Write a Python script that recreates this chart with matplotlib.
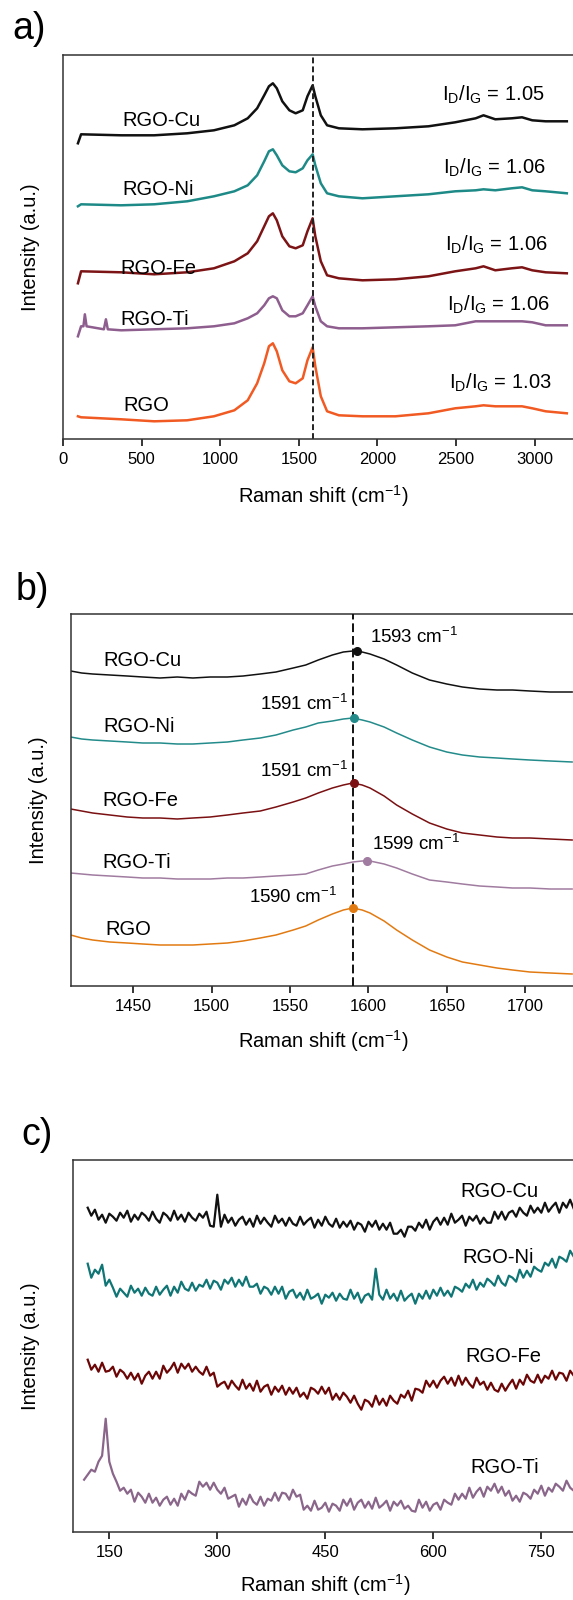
import numpy as np
import matplotlib
matplotlib.use('Agg')
import matplotlib.pyplot as plt

plt.rcParams['font.family'] = ['Liberation Sans', 'DejaVu Sans']
plt.rcParams['mathtext.fontset'] = 'custom'
plt.rcParams['mathtext.rm'] = 'Liberation Sans'
plt.rcParams['mathtext.it'] = 'Liberation Sans:italic'
plt.rcParams['mathtext.default'] = 'regular'

W, H = 573, 1600

samples = ['RGO-Cu', 'RGO-Ni', 'RGO-Fe', 'RGO-Ti', 'RGO']

# ---- a) full spectra (Raman shift, cm-1 / intensity, a.u.)
a_shift = [95, 115, 370, 580, 790, 960, 1090, 1175, 1235, 1280, 1310, 1335, 1360, 1395,
           1440, 1480, 1525, 1555, 1588, 1605, 1640, 1680, 1755, 1905, 2115, 2325, 2495,
           2625, 2675, 2750, 2855, 2920, 2985, 3070, 3205]
a_cu = [296, 305, 304, 304, 306, 309, 314, 321, 331, 344, 353, 356, 351, 338, 329, 326, 329,
        343, 354, 343, 324, 314, 311, 310, 311, 313, 317, 321, 324, 320, 321, 322, 319, 318, 318]
a_ni = [233, 235, 234, 235, 238, 243, 248, 254, 264, 278, 288, 290, 284, 274, 268, 267, 271,
        279, 285, 274, 256, 246, 243, 241, 243, 245, 248, 249, 250, 249, 251, 252, 249, 248, 246]
a_fe = [156, 168, 167, 165, 167, 171, 178, 186, 198, 213, 223, 226, 219, 203, 193, 191, 194,
        208, 221, 203, 178, 164, 161, 159, 160, 163, 168, 171, 173, 169, 171, 172, 169, 167, 166]
a_rgo = [23, 22, 20, 18, 19, 23, 29, 39, 56, 76, 93, 96, 88, 69, 58, 56, 61, 79, 92, 73, 43,
         28, 24, 23, 23, 26, 31, 33, 34, 33, 33, 33, 31, 28, 26]
a_ti_shift = [95, 115, 130, 139, 150, 260, 273, 285, 370, 580, 790, 960, 1090, 1175, 1235,
              1280, 1310, 1335, 1360, 1395, 1440, 1480, 1525, 1555, 1588, 1605, 1640, 1680,
              1755, 1905, 2115, 2325, 2495, 2625, 2675, 2750, 2855, 2920, 2985, 3070, 3205]
a_ti = [103, 113, 113, 125, 113, 110, 120, 110, 109, 110, 111, 113, 116, 121, 126, 134, 141,
        143, 141, 129, 123, 123, 126, 134, 143, 133, 118, 113, 111, 111, 112, 113, 114, 118,
        118, 118, 118, 118, 117, 114, 114]
a_ratio = ['1.05', '1.06', '1.06', '1.06', '1.03']
a_label_pos = [(375, 313), (375, 244), (368, 165), (368, 114), (385, 28)]
a_ratio_pos = [(2412, 339), (2419, 266), (2433, 189), (2444, 129), (2455, 51)]

# ---- b) G band region
b_shift = [1410, 1417, 1424, 1435, 1446, 1456, 1467, 1478, 1488, 1499, 1510, 1520, 1531,
           1541, 1552, 1560, 1568, 1577, 1584, 1590, 1596, 1601, 1610, 1618, 1628, 1639,
           1650, 1660, 1671, 1682, 1692, 1703, 1716, 1730]
b_cu = [315, 313, 312, 311, 310, 309, 308, 309, 308, 309, 309, 310, 312, 314, 318, 321, 326,
        331, 334, 335, 334, 332, 327, 321, 313, 306, 302, 299, 297, 296, 296, 295, 294, 294]
b_ni = [249, 247, 246, 245, 244, 243, 243, 242, 242, 243, 244, 246, 248, 251, 256, 259, 263,
        265, 267, 268, 266, 264, 259, 253, 246, 239, 234, 231, 229, 228, 227, 226, 225, 224]
b_fe = [177, 175, 173, 171, 169, 168, 168, 167, 168, 169, 171, 173, 175, 179, 184, 188, 193,
        198, 201, 203, 201, 198, 190, 181, 172, 163, 157, 153, 151, 149, 148, 148, 147, 146]
b_ti = [113, 112, 111, 110, 109, 108, 108, 107, 107, 107, 108, 108, 109, 110, 111, 112, 116,
        120, 122, 124, 125, 125, 122, 118, 112, 106, 104, 102, 100, 99, 98, 98, 97, 97]
b_rgo = [51, 48, 46, 44, 43, 42, 41, 41, 41, 42, 43, 45, 48, 51, 56, 60, 66, 72, 76, 78, 76,
         73, 65, 56, 46, 36, 29, 24, 21, 18, 16, 14, 13, 12]
b_peak = [1593, 1591, 1591, 1599, 1590]
b_peak_int = [335, 268, 203, 125, 78]
b_label_pos = [(1431, 320), (1431, 254), (1430, 180), (1430, 118), (1432, 51)]
b_peak_pos = [(1601, 343), (1531, 276), (1531, 209), (1602, 136), (1524, 83)]

# ---- c) low wavenumber region
c_shift = np.arange(120, 800, 5)
c_cu = [324, 316, 322, 312, 317, 309, 318, 315, 311, 319, 314, 321, 310, 317, 312, 319,
        316, 311, 320, 313, 309, 319, 316, 311, 321, 312, 317, 310, 319, 314, 311, 318,
        314, 320, 306, 305, 337, 305, 317, 309, 314, 306, 312, 315, 307, 313, 305, 316,
        308, 314, 309, 305, 316, 309, 313, 306, 314, 308, 306, 315, 307, 311, 314, 304,
        312, 306, 315, 308, 305, 313, 304, 310, 305, 311, 302, 309, 307, 300, 310, 305,
        311, 302, 308, 302, 309, 298, 298, 302, 295, 305, 305, 301, 309, 304, 312, 302,
        310, 314, 307, 314, 307, 318, 309, 312, 316, 306, 315, 311, 316, 308, 314, 309,
        309, 320, 313, 320, 312, 319, 321, 315, 324, 319, 316, 326, 319, 324, 319, 329,
        320, 325, 329, 319, 329, 324, 332, 323]
c_ni = [268, 254, 262, 258, 267, 246, 252, 244, 235, 243, 239, 235, 246, 239, 243, 236,
        244, 238, 236, 245, 237, 242, 246, 236, 245, 239, 250, 243, 241, 249, 241, 247,
        245, 252, 243, 251, 249, 242, 252, 248, 254, 245, 252, 246, 255, 245, 245, 248,
        238, 245, 243, 237, 245, 238, 245, 233, 240, 242, 234, 239, 232, 242, 233, 235,
        238, 228, 237, 234, 239, 231, 238, 233, 232, 242, 233, 239, 229, 236, 238, 232,
        263, 237, 232, 242, 233, 238, 231, 241, 231, 235, 238, 228, 238, 233, 241, 233,
        242, 236, 244, 236, 241, 235, 245, 243, 240, 248, 244, 252, 242, 249, 245, 253,
        250, 246, 256, 249, 246, 256, 254, 250, 262, 254, 261, 255, 265, 262, 260, 269,
        266, 273, 264, 275, 273, 270, 281, 275]
c_fe = [172, 162, 167, 160, 169, 160, 161, 165, 155, 162, 159, 153, 159, 152, 158, 148,
        156, 160, 153, 160, 153, 166, 159, 163, 169, 159, 168, 163, 168, 160, 165, 160,
        157, 165, 156, 159, 145, 148, 150, 143, 151, 146, 142, 152, 143, 148, 141, 151,
        140, 145, 147, 137, 145, 140, 146, 137, 144, 138, 144, 135, 139, 133, 144, 142,
        138, 145, 138, 144, 132, 138, 132, 139, 135, 129, 136, 128, 122, 132, 130, 125,
        136, 127, 133, 126, 136, 131, 128, 137, 134, 141, 131, 143, 142, 139, 151, 145,
        151, 144, 151, 155, 148, 154, 146, 156, 147, 154, 148, 144, 154, 147, 150, 142,
        149, 142, 140, 148, 141, 147, 152, 143, 152, 147, 157, 151, 149, 157, 149, 156,
        153, 161, 152, 159, 158, 151, 161, 156]
c_ti_shift = np.arange(115, 800, 5)
c_ti = [52, 57, 62, 60, 70, 76, 113, 70, 58, 50, 41, 44, 38, 42, 30, 39, 35, 29, 38, 29,
        34, 26, 32, 35, 27, 33, 26, 38, 32, 41, 38, 36, 50, 45, 49, 42, 49, 42, 38, 44,
        33, 35, 37, 25, 33, 27, 37, 30, 27, 35, 26, 33, 31, 39, 31, 39, 38, 32, 42, 35,
        37, 22, 26, 21, 31, 22, 24, 29, 20, 28, 26, 21, 32, 26, 33, 22, 29, 32, 24, 30,
        23, 34, 24, 27, 31, 21, 30, 26, 31, 23, 26, 21, 20, 32, 24, 30, 21, 27, 29, 22,
        32, 29, 27, 38, 32, 38, 33, 44, 34, 40, 44, 35, 45, 41, 48, 39, 45, 36, 41, 31,
        36, 30, 39, 37, 33, 42, 38, 46, 36, 44, 40, 48, 45, 41, 51, 44, 41]
c_label_pos = [(638, 335), (641, 269), (644, 170), (651, 59)]

colors_a = ['#111111', '#1e8a87', '#7c1416', '#8e5e8e', '#f15a22']
colors_b = ['#111111', '#248b8b', '#7a1012', '#a07ca0', '#e27a12']
colors_c = ['#111111', '#107575', '#6c0606', '#8a668a']

fig = plt.figure(figsize=(W / 100, H / 100), dpi=100)


def px_axes(left, top, bottom, right=600):
    return fig.add_axes([left / W, 1 - bottom / H, (right - left) / W, (bottom - top) / H])


def style(ax, xlim, ytop, ticks, xlab, ylab):
    ax.set_xlim(*xlim)
    ax.set_ylim(0, ytop)
    ax.set_xticks(ticks)
    ax.set_yticks([])
    ax.tick_params(axis='x', direction='out', length=5, width=1.1, labelsize=12, pad=4.5)
    for s in ax.spines.values():
        s.set_linewidth(1.1)
        s.set_color('#333333')
    ax.set_xlabel('Raman shift (cm$^{-1}$)', fontsize=14.5, va='center')
    ax.xaxis.set_label_coords(*xlab)
    ax.set_ylabel('Intensity (a.u.)', fontsize=14.5, va='center')
    ax.yaxis.set_label_coords(*ylab)


# a)
ax = px_axes(63, 54.7, 439.3)
for xs, ys, c in zip([a_shift, a_shift, a_shift, a_ti_shift, a_shift],
                     [a_cu, a_ni, a_fe, a_ti, a_rgo], colors_a):
    ax.plot(xs, ys, color=c, lw=1.8)
ax.axvline(1590, color='#222222', lw=1.4, ls=(0, (3, 1.6)))
for name, (x, y) in zip(samples, a_label_pos):
    ax.text(x, y, name, fontsize=14.5, va='baseline')
for r, (x, y) in zip(a_ratio, a_ratio_pos):
    ax.text(x, y, 'I$_D$/I$_G$ = ' + r, fontsize=14.5, va='baseline')
style(ax, (0, 3416), 384.6, range(0, 3001, 500),
      ((323 - 63) / 537, (439.3 - 496) / 384.6), ((31 - 63) / 537, 0.5))

# b)
ax = px_axes(70.7, 614.3, 986)
for ys, c, p, pi in zip([b_cu, b_ni, b_fe, b_ti, b_rgo], colors_b, b_peak, b_peak_int):
    ax.plot(b_shift, ys, color=c, lw=1.1)
    ax.plot(p, pi, 'o', color=c, ms=5.5, zorder=4)
ax.axvline(1590, color='#111111', lw=1.4, ls=(0, (4.5, 2)), zorder=3)
for name, (x, y) in zip(samples, b_label_pos):
    ax.text(x, y, name, fontsize=14.5, va='baseline')
for p, (x, y) in zip(b_peak, b_peak_pos):
    ax.text(x, y, '%d cm$^{-1}$' % p, fontsize=13.5, va='baseline')
style(ax, (1410, 1747.8), 371.7, range(1450, 1701, 50),
      ((323 - 70.7) / 529.3, (986 - 1041) / 371.7), ((38 - 70.7) / 529.3, 0.5))

# c)
ax = px_axes(73.3, 1159.7, 1531.7)
for xs, ys, c in zip([c_shift, c_shift, c_shift, c_ti_shift],
                     [c_cu, c_ni, c_fe, c_ti], colors_c):
    ax.plot(xs, ys, color=c, lw=1.6)
for name, (x, y) in zip(samples[:4], c_label_pos):
    ax.text(x, y, name, fontsize=14.5, va='baseline')
style(ax, (100, 831.5), 372, range(150, 751, 150),
      ((325 - 73.3) / 526.7, (1531.7 - 1585) / 372), ((30 - 73.3) / 526.7, 0.5))

# panel letters
for lab, x, y in [('a)', 12.5, 39), ('b)', 16, 600), ('c)', 21, 1145)]:
    fig.text(x / W, 1 - y / H, lab, fontsize=27, va='baseline')

fig.savefig('out.png', dpi=100)
